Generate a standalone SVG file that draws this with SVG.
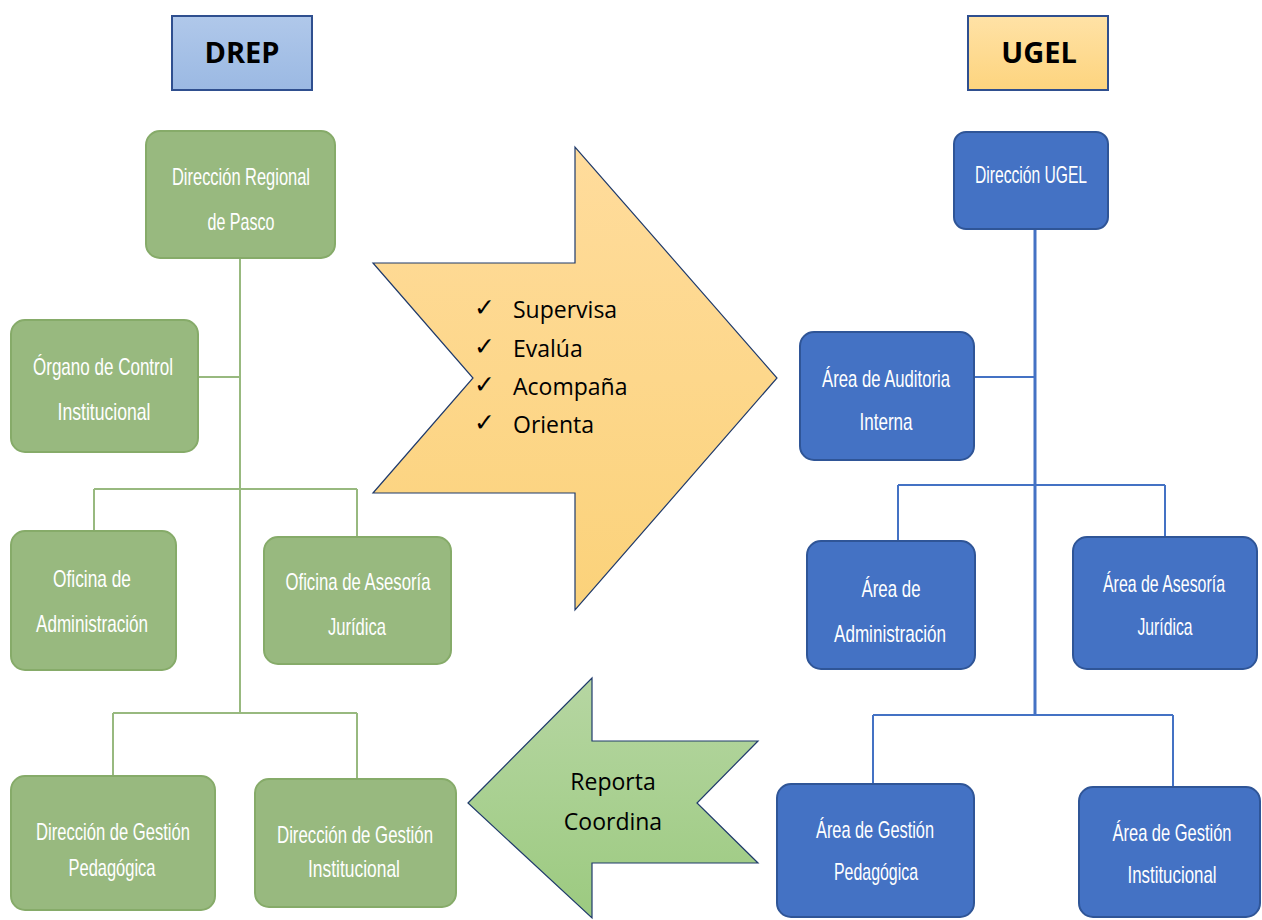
<svg xmlns="http://www.w3.org/2000/svg" width="1262" height="920" viewBox="0 0 1262 920">
<style>
.g rect{fill:#98b97f;stroke:#86ab69;stroke-width:2}
.b rect{fill:#4472c4;stroke:#2f5597;stroke-width:2}
.nt{font-family:"Liberation Sans",Arial,sans-serif;font-size:24px;fill:#ffffff;text-anchor:middle}
.hd{font-family:"Open Sans","Liberation Sans",sans-serif;font-weight:bold;font-size:29px;fill:#000;text-anchor:middle}
.at{font-family:"Open Sans","Liberation Sans",sans-serif;font-size:23px;fill:#000}
.ck{font-family:"DejaVu Sans",sans-serif;font-size:25px;font-weight:bold;fill:#000}
.gc{stroke:#98b97f;stroke-width:2;fill:none}
.bc{stroke:#4472c4;stroke-width:2;fill:none}
</style>
<defs>
<linearGradient id="gBlue" x1="0" y1="0" x2="0" y2="1"><stop offset="0" stop-color="#b0c8ea"/><stop offset="1" stop-color="#9bb9e3"/></linearGradient>
<linearGradient id="gGold" x1="0" y1="0" x2="0" y2="1"><stop offset="0" stop-color="#ffe2a6"/><stop offset="1" stop-color="#fdd47e"/></linearGradient>
<linearGradient id="gArrY" x1="0" y1="0" x2="0" y2="1"><stop offset="0" stop-color="#ffdc9c"/><stop offset="1" stop-color="#fbd27a"/></linearGradient>
<linearGradient id="gArrG" x1="0" y1="0" x2="0" y2="1"><stop offset="0" stop-color="#b6d6a2"/><stop offset="1" stop-color="#9cca80"/></linearGradient>
</defs>
<rect width="1262" height="920" fill="#ffffff"/>

<g id="connectors">
<path class="gc" d="M240 258 V712 M198 377 H240 M94 489 H357 M94 489 V531 M357 489 V537 M113 713 H357 M113 713 V776 M357 713 V779"/>
<path class="bc" d="M1035 229 V716" style="stroke-width:3"/>
<path class="bc" d="M974 377 H1035 M898 485 H1165 M898 485 V541 M1165 485 V537 M873 715 H1173 M873 715 V784 M1173 715 V787"/>
</g>

<g id="hdr-drep">
<rect x="172" y="16" width="140" height="74" fill="url(#gBlue)" stroke="#2f4f8f" stroke-width="2"/>
<text class="hd" x="242" y="63">DREP</text>
</g>
<g id="hdr-ugel">
<rect x="968" y="16" width="140" height="74" fill="url(#gGold)" stroke="#2f4f8f" stroke-width="2"/>
<text class="hd" x="1039" y="63">UGEL</text>
</g>

<g id="arrow-supervisa">
<polygon points="373,263 575,263 575,147 777,378 575,610 575,493 373,493 473,378" fill="url(#gArrY)" stroke="#1f3a6b" stroke-width="1.2"/>
<text class="ck" x="474" y="316">✓</text>
<text class="at" x="513" y="318">Supervisa</text>
<text class="ck" x="474" y="355">✓</text>
<text class="at" x="513" y="357">Evalúa</text>
<text class="ck" x="474" y="393">✓</text>
<text class="at" x="513" y="395">Acompaña</text>
<text class="ck" x="474" y="431">✓</text>
<text class="at" x="513" y="433">Orienta</text>
</g>

<g id="arrow-reporta">
<polygon points="468,803 592,678 592,741 758,741 697,803 758,863 592,863 592,918" fill="url(#gArrG)" stroke="#1f3a6b" stroke-width="1.2"/>
<text class="at" x="613" y="790" text-anchor="middle">Reporta</text>
<text class="at" x="613" y="830" text-anchor="middle">Coordina</text>
</g>

<g id="n-dir-regional" class="g">
<rect x="146" y="131" width="189" height="127" rx="14"/>
<text class="nt" x="241" y="185" textLength="138" lengthAdjust="spacingAndGlyphs">Dirección Regional</text>
<text class="nt" x="241" y="230" textLength="67" lengthAdjust="spacingAndGlyphs">de Pasco</text>
</g>
<g id="n-organo-control" class="g">
<rect x="11" y="320" width="187" height="132" rx="14"/>
<text class="nt" x="103" y="375" textLength="140" lengthAdjust="spacingAndGlyphs">Órgano de Control</text>
<text class="nt" x="104" y="420" textLength="93" lengthAdjust="spacingAndGlyphs">Institucional</text>
</g>
<g id="n-oficina-admin" class="g">
<rect x="11" y="531" width="165" height="139" rx="14"/>
<text class="nt" x="92" y="587" textLength="78" lengthAdjust="spacingAndGlyphs">Oficina de</text>
<text class="nt" x="92" y="632" textLength="112" lengthAdjust="spacingAndGlyphs">Administración</text>
</g>
<g id="n-oficina-asesoria" class="g">
<rect x="264" y="537" width="187" height="127" rx="14"/>
<text class="nt" x="358" y="590" textLength="145" lengthAdjust="spacingAndGlyphs">Oficina de Asesoría</text>
<text class="nt" x="357" y="635" textLength="58" lengthAdjust="spacingAndGlyphs">Jurídica</text>
</g>
<g id="n-dir-gestion-ped" class="g">
<rect x="11" y="776" width="204" height="134" rx="14"/>
<text class="nt" x="113" y="840" textLength="154" lengthAdjust="spacingAndGlyphs">Dirección de Gestión</text>
<text class="nt" x="112" y="876" textLength="87" lengthAdjust="spacingAndGlyphs">Pedagógica</text>
</g>
<g id="n-dir-gestion-inst" class="g">
<rect x="255" y="779" width="201" height="128" rx="14"/>
<text class="nt" x="355" y="843" textLength="156" lengthAdjust="spacingAndGlyphs">Dirección de Gestión</text>
<text class="nt" x="354" y="877" textLength="92" lengthAdjust="spacingAndGlyphs">Institucional</text>
</g>

<g id="n-dir-ugel" class="b">
<rect x="954" y="132" width="154" height="97" rx="12"/>
<text class="nt" x="1031" y="183" textLength="112" lengthAdjust="spacingAndGlyphs">Dirección UGEL</text>
</g>
<g id="n-auditoria" class="b">
<rect x="800" y="332" width="174" height="128" rx="14"/>
<text class="nt" x="886" y="387" textLength="128" lengthAdjust="spacingAndGlyphs">Área de Auditoria</text>
<text class="nt" x="886" y="430" textLength="53" lengthAdjust="spacingAndGlyphs">Interna</text>
</g>
<g id="n-area-admin" class="b">
<rect x="807" y="541" width="168" height="128" rx="14"/>
<text class="nt" x="891" y="597" textLength="59" lengthAdjust="spacingAndGlyphs">Área de</text>
<text class="nt" x="890" y="642" textLength="112" lengthAdjust="spacingAndGlyphs">Administración</text>
</g>
<g id="n-area-asesoria" class="b">
<rect x="1073" y="537" width="184" height="132" rx="14"/>
<text class="nt" x="1164" y="592" textLength="122" lengthAdjust="spacingAndGlyphs">Área de Asesoría</text>
<text class="nt" x="1165" y="635" textLength="55" lengthAdjust="spacingAndGlyphs">Jurídica</text>
</g>
<g id="n-area-gestion-ped" class="b">
<rect x="777" y="784" width="197" height="133" rx="14"/>
<text class="nt" x="875" y="838" textLength="118" lengthAdjust="spacingAndGlyphs">Área de Gestión</text>
<text class="nt" x="876" y="880" textLength="84" lengthAdjust="spacingAndGlyphs">Pedagógica</text>
</g>
<g id="n-area-gestion-inst" class="b">
<rect x="1079" y="787" width="181" height="130" rx="14"/>
<text class="nt" x="1172" y="841" textLength="119" lengthAdjust="spacingAndGlyphs">Área de Gestión</text>
<text class="nt" x="1172" y="883" textLength="89" lengthAdjust="spacingAndGlyphs">Institucional</text>
</g>
</svg>
